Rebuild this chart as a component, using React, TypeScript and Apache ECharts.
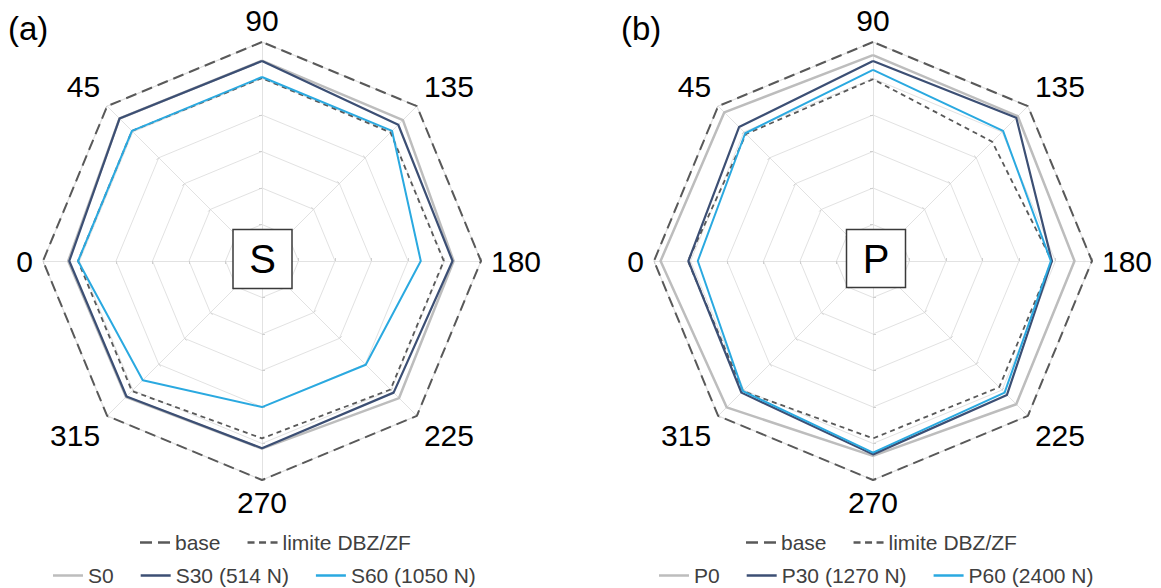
import React, { useEffect, useRef } from "react";
import * as echarts from "echarts";

// Directions in ECharts radar order (counter-clockwise from the top)
const directions = ["90", "45", "0", "315", "270", "225", "180", "135"];

// Values relative to the "base" outline (outer ring = 1)
const baseValues = [1, 1, 1, 1, 1, 1, 1, 1];

const limiteA = [0.835, 0.84, 0.84, 0.84, 0.81, 0.83, 0.83, 0.83];
const s0Values = [0.915, 0.92, 0.885, 0.878, 0.857, 0.885, 0.875, 0.91];
const s30Values = [0.913, 0.92, 0.88, 0.875, 0.855, 0.85, 0.87, 0.88];
const s60Values = [0.84, 0.84, 0.84, 0.77, 0.667, 0.67, 0.725, 0.84];

const limiteB = [0.83, 0.82, 0.845, 0.84, 0.81, 0.815, 0.817, 0.77];
const p0Values = [0.94, 0.96, 0.97, 0.945, 0.89, 0.925, 0.92, 0.935];
const p30Values = [0.913, 0.865, 0.843, 0.85, 0.883, 0.865, 0.817, 0.925];
const p60Values = [0.873, 0.825, 0.8, 0.84, 0.875, 0.85, 0.812, 0.84];

const namesA = ["S0", "S30 (514 N)", "S60 (1050 N)"];
const namesB = ["P0", "P30 (1270 N)", "P60 (2400 N)"];
const refNames = ["base", "limite DBZ/ZF"];

const FONT = "'Liberation Sans', Arial, Helvetica, sans-serif";
const C_BASE = "#595959";
const C_LIM = "#595959";
const C_0 = "#BDBDBD";
const C_30 = "#3C4F74";
const C_60 = "#2AA9E0";

const ICON_SOLID = "path://M0,0H30V3H0Z";
const ICON_BASE = "path://M0,0H12V3H0ZM18,0H30V3H18Z";
const ICON_LIM = "path://M0,0H7V3H0ZM11.5,0H18.5V3H11.5ZM23,0H30V3H23Z";

function mkSeries(
  radarIndex: number,
  name: string,
  values: number[],
  color: string,
  width: number,
  type: any
) {
  return {
    type: "radar",
    radarIndex,
    name,
    symbol: "none",
    silent: true,
    itemStyle: { color },
    lineStyle: { color, width, type },
    data: [{ name, value: values }],
  };
}

function mkLegend(left: number, top: number, names: string[], icons: string[]) {
  return {
    left,
    top,
    orient: "horizontal",
    padding: 0,
    itemGap: 27,
    itemWidth: 30,
    itemHeight: 2.5,
    symbolKeepAspect: false,
    selectedMode: false,
    itemStyle: { borderWidth: 0 },
    textStyle: { fontSize: 21, color: "#404040", fontFamily: FONT },
    data: names.map((n, i) => ({ name: n, icon: icons[i] })),
  };
}

export default function App() {
  const ref = useRef<HTMLDivElement>(null);

  useEffect(() => {
    document.body.style.margin = "0";
    if (!ref.current) return;
    const chart = echarts.init(ref.current, null, { renderer: "svg" });

    const indicator = directions.map((d) => ({ name: d, min: 0, max: 1 }));
    const tok = { fontSize: 30, lineHeight: 24, fontFamily: FONT, color: "#000" };
    const radarCommon = {
      indicator,
      shape: "polygon",
      splitNumber: 6,
      startAngle: 90,
      radius: 219,
      nameGap: 10,
      axisName: {
        color: "#000",
        fontSize: 30,
        lineHeight: 24,
        fontFamily: FONT,
        formatter: (name: string) => {
          if (name === "45" || name === "135") return `{up|${name}}`;
          if (name === "315" || name === "225") return `{dn|${name}}`;
          return `{n|${name}}`;
        },
        rich: {
          n: { ...tok },
          up: { ...tok, padding: [0, 0, 25, 0] },
          dn: { ...tok, padding: [26, 0, 0, 0] },
        },
      },
      splitLine: { lineStyle: { color: "#E2E2E2", width: 1 } },
      splitArea: { show: false },
      axisLine: { lineStyle: { color: "#E2E2E2", width: 1 } },
      axisTick: { show: true, length: 3, lineStyle: { color: "#CFCFCF" } },
      axisLabel: { show: false },
    };

    const option: any = {
      animation: false,
      backgroundColor: "#fff",
      radar: [
        { ...radarCommon, center: [262, 261] },
        { ...radarCommon, center: [873, 261] },
      ],
      legend: [
        mkLegend(140, 532, refNames, [ICON_BASE, ICON_LIM]),
        mkLegend(53, 565, namesA, [ICON_SOLID, ICON_SOLID, ICON_SOLID]),
        mkLegend(746, 532, refNames, [ICON_BASE, ICON_LIM]),
        mkLegend(659, 565, namesB, [ICON_SOLID, ICON_SOLID, ICON_SOLID]),
      ],
      series: [
        mkSeries(0, "base", baseValues, C_BASE, 2, [11, 6]),
        mkSeries(0, "limite DBZ/ZF", limiteA, C_LIM, 1.8, [5, 4]),
        mkSeries(0, namesA[0], s0Values, C_0, 2.5, "solid"),
        mkSeries(0, namesA[1], s30Values, C_30, 2.2, "solid"),
        mkSeries(0, namesA[2], s60Values, C_60, 2, "solid"),
        mkSeries(1, "base", baseValues, C_BASE, 2, [11, 6]),
        mkSeries(1, "limite DBZ/ZF", limiteB, C_LIM, 1.8, [5, 4]),
        mkSeries(1, namesB[0], p0Values, C_0, 2.5, "solid"),
        mkSeries(1, namesB[1], p30Values, C_30, 2.2, "solid"),
        mkSeries(1, namesB[2], p60Values, C_60, 2, "solid"),
      ],
      graphic: [
        {
          type: "text",
          left: 8,
          top: 12,
          style: { text: "(a)", fill: "#000", font: `33px ${FONT}` },
        },
        {
          type: "text",
          left: 621,
          top: 12,
          style: { text: "(b)", fill: "#000", font: `33px ${FONT}` },
        },
        {
          type: "rect",
          shape: { x: 233, y: 229.5, width: 59, height: 59 },
          style: { fill: "#fff", stroke: "#3a3a3a", lineWidth: 1.5 },
          z: 100,
        },
        {
          type: "text",
          x: 262.5,
          y: 259,
          z: 101,
          style: {
            text: "S",
            font: `40px ${FONT}`,
            fill: "#000",
            align: "center",
            verticalAlign: "middle",
          },
        },
        {
          type: "rect",
          shape: { x: 846.5, y: 229.5, width: 59, height: 58 },
          style: { fill: "#fff", stroke: "#3a3a3a", lineWidth: 1.5 },
          z: 100,
        },
        {
          type: "text",
          x: 876,
          y: 259,
          z: 101,
          style: {
            text: "P",
            font: `40px ${FONT}`,
            fill: "#000",
            align: "center",
            verticalAlign: "middle",
          },
        },
      ],
    };

    chart.setOption(option);
    return () => chart.dispose();
  }, []);

  return <div ref={ref} style={{ width: 1161, height: 588 }} />;
}
